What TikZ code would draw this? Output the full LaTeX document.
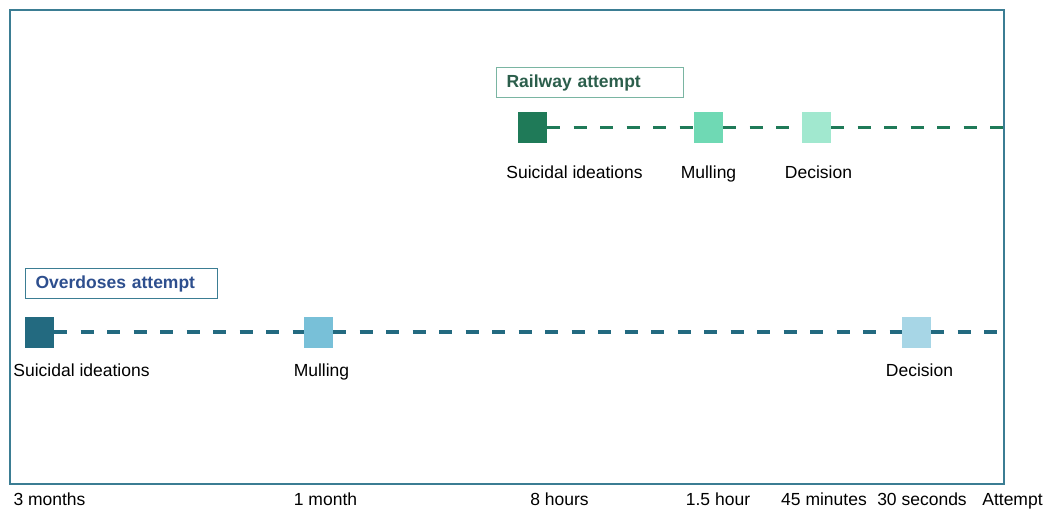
\documentclass[tikz,border=0pt]{standalone}
\usepackage{fontspec}
\setmainfont{Liberation Sans}
\usetikzlibrary{positioning}
\definecolor{FrameTeal}{HTML}{3B7D93}
\definecolor{RailDark}{HTML}{1F7A58}
\definecolor{RailMid}{HTML}{6FD9B4}
\definecolor{RailLight}{HTML}{A1E8CF}
\definecolor{RailText}{HTML}{2B5E4B}
\definecolor{RailEdge}{HTML}{7AB5A2}
\definecolor{DoseDark}{HTML}{236A80}
\definecolor{DoseMid}{HTML}{78C0D8}
\definecolor{DoseLight}{HTML}{A7D6E6}
\definecolor{DoseText}{HTML}{2E4F8E}

\begin{document}
\begin{tikzpicture}[
      x=1pt, y=-1pt,
      every node/.style={font=\fontsize{17.5}{20}\selectfont},
      stage/.style={minimum width=29pt, minimum height=31pt, inner sep=0pt},
      caption/.style={text height=12.8pt, text depth=3.7pt},
      title/.style={draw, line width=1.2pt, anchor=north west, font=\fontsize{17.5}{20}\selectfont\bfseries, inner xsep=10pt, minimum height=30pt, align=left},
      timeline/.style={line width=3.6pt, dash pattern=on 13pt off 13.5pt}
    ]
      \useasboundingbox (0,0) rectangle (1052,509);
      \draw[FrameTeal, line width=1.3pt] (10,10) rectangle (1004,484);

      % Railway attempt
      \node[title, draw=RailEdge, text=RailText, text width=167pt] (railtitle) at (496,67) {Railway attempt};
      \node[stage, fill=RailDark] (railideas) at (532.5,127.5) {};
      \node[stage, fill=RailMid] (railmull) at (708.5,127.5) {};
      \node[stage, fill=RailLight] (raildecide) at (816.5,127.5) {};
      \coordinate (railend) at (1004,127.5);
      \draw[timeline, RailDark] (railideas.east) -- (railmull.west);
      \draw[timeline, RailDark] (railmull.east) -- (raildecide.west);
      \draw[timeline, RailDark] (raildecide.east) -- (railend);
      \node[caption, below=19pt of railideas, xshift=42pt] (railideaslbl) {Suicidal ideations};
      \node[caption, below=19pt of railmull] (railmulllbl) {Mulling};
      \node[caption, below=19pt of raildecide, xshift=2pt] (raildecidelbl) {Decision};

      % Overdoses attempt
      \node[title, draw=FrameTeal, text=DoseText, text width=172pt] (dosetitle) at (25,268) {Overdoses attempt};
      \node[stage, fill=DoseDark] (doseideas) at (39.5,332) {};
      \node[stage, fill=DoseMid] (dosemull) at (318.5,332) {};
      \node[stage, fill=DoseLight] (dosedecide) at (916.5,332) {};
      \coordinate (doseend) at (1000,332);
      \draw[timeline, DoseDark] (doseideas.east) -- (dosemull.west);
      \draw[timeline, DoseDark] (dosemull.east) -- (dosedecide.west);
      \draw[timeline, DoseDark] (dosedecide.east) -- (doseend);
      \node[caption, below=12pt of doseideas, xshift=42pt] (doseideaslbl) {Suicidal ideations};
      \node[caption, below=12pt of dosemull, xshift=3pt] (dosemulllbl) {Mulling};
      \node[caption, below=12pt of dosedecide, xshift=3pt] (dosedecidelbl) {Decision};

      % Time axis
      \node[anchor=base] (t1) at (49.5,505) {3 months};
      \node[anchor=base] (t2) at (325.5,505) {1 month};
      \node[anchor=base] (t3) at (559.5,505) {8 hours};
      \node[anchor=base] (t4) at (718,505) {1.5 hour};
      \node[anchor=base] (t5) at (824,505) {45 minutes};
      \node[anchor=base] (t6) at (922,505) {30 seconds};
      \node[anchor=base] (t7) at (1012.5,505) {Attempt};
    \end{tikzpicture}
\end{document}
